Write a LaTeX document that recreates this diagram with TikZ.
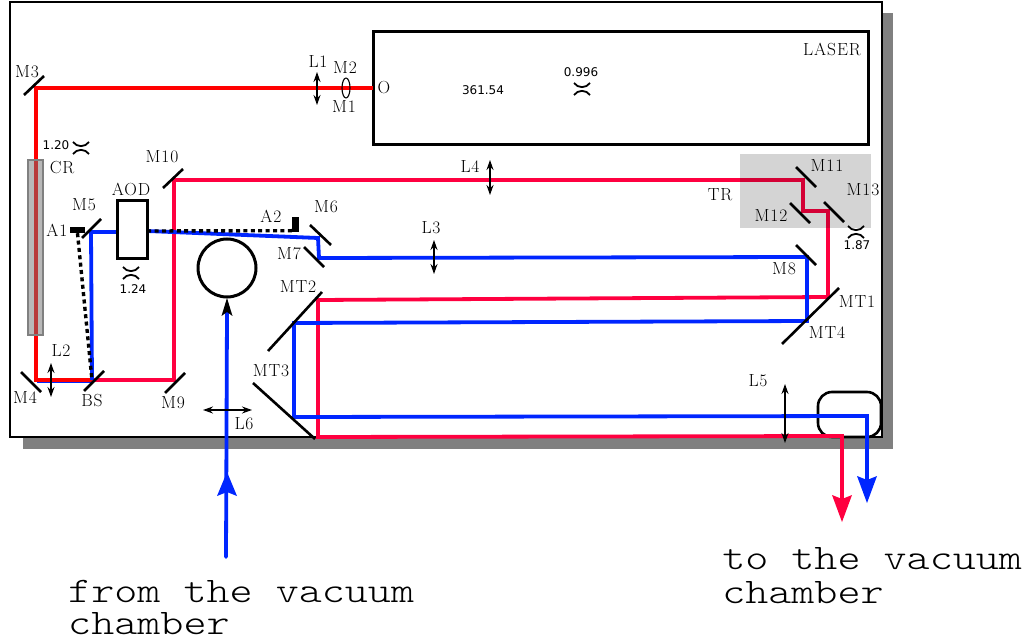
\documentclass[tikz,border=0pt]{standalone}
\usepackage{fontspec}
\newfontfamily\numfont{DejaVu Sans}
\newfontfamily\lblfont[LetterSpace=5]{Latin Modern Roman}
\newfontfamily\bigfont{Latin Modern Mono Light}
\usetikzlibrary{arrows.meta,shapes.geometric}
\definecolor{redA}{HTML}{FF0000}
\definecolor{redB}{HTML}{FF0040}
\definecolor{blueA}{HTML}{0026FF}
\tikzset{
  redbeam/.style={line width=3.8pt,line join=miter},
  bluebeam/.style={line width=3.8pt,draw=blueA,line join=miter},
  mirror/.style={line width=2.6pt,black},
  dots/.style={line width=3.4pt,dash pattern=on 4pt off 3.4pt},
  lensarrow/.style={line width=1.2pt,{Stealth[length=10pt,width=7pt]}-{Stealth[length=10pt,width=7pt]}},
  lbl/.style={inner sep=0pt,font=\lblfont\fontsize{17.5}{17.5}\selectfont},
  num/.style={inner sep=0pt,font=\numfont\fontsize{12}{12}\selectfont},
  big/.style={inner sep=0pt,anchor=base west,font=\bigfont\fontsize{36}{36}\selectfont,xscale=1.22,transform shape},
  waist/.pic={\draw[line width=1.8pt] (-8,-6) .. controls (-4,-0.5) and (4,-0.5) .. (8,-6);
              \draw[line width=1.8pt] (-8,6) .. controls (-4,0.5) and (4,0.5) .. (8,6);}
}
\begin{document}
\begin{tikzpicture}[x=1pt,y=-1pt]
\useasboundingbox (0,0) rectangle (1036,644);
% shadow and frame
\fill[black!50] (23,13) rectangle (893,449);
\draw[line width=1.4pt,fill=white] (10,2) rectangle (882,437);
% laser and other boxes
\node[draw,line width=3pt,minimum width=495pt,minimum height=113pt,inner sep=0pt] (laser) at (620.5,88.5) {};
\draw[line width=2.6pt,rounded corners=14pt] (818,392) rectangle (881,437);
\node[draw,circle,line width=3pt,minimum size=58pt,inner sep=0pt] (chamber) at (227,268) {};
% waypoints
\coordinate (O) at (373,88); \coordinate (cM3) at (36,88); \coordinate (cM4) at (36,380);
\coordinate (cBS) at (92,380); \coordinate (cM9) at (174,380); \coordinate (cM10) at (174,180);
\coordinate (cM11) at (803,180); \coordinate (cM12) at (803,211); \coordinate (cM13) at (828,211);
\coordinate (cMT1) at (828,297); \coordinate (cMT2) at (318,300); \coordinate (cMT3) at (318,437);
\coordinate (cOutR) at (842,436); \coordinate (endR) at (842,505);
\coordinate (cM5) at (91,232); \coordinate (aodL) at (117,232); \coordinate (aodR) at (147,231);
\coordinate (cM6) at (318,238); \coordinate (cM7) at (319,258); \coordinate (cM8) at (807,257);
\coordinate (cMT4) at (807,321); \coordinate (cMT2b) at (294,323); \coordinate (cMT3b) at (294,417);
\coordinate (cOutB) at (867,416); \coordinate (endB) at (867,485);
\coordinate (inS) at (226,557); \coordinate (inE) at (227,312);
% beams
\draw[blueA,line width=.7pt] (37.5,194) -- (37.5,382) -- (92,382);
\draw[redbeam,draw=redA] (O) -- (cM3) -- (cM4) -- (cBS);
\draw[redbeam,draw=redB] (cBS) -- (cM9) -- (cM10) -- (cM11) -- (cM12) -- (cM13) -- (cMT1) -- (cMT2) -- (cMT3) -- (cOutR) -- (endR);
\draw[bluebeam] (cBS) -- (cM5) -- (aodL);
\draw[bluebeam] (aodR) -- (cM6) -- (cM7) -- (cM8) -- (cMT4) -- (cMT2b) -- (cMT3b) -- (cOutB) -- (endB);
\draw[bluebeam,line cap=round] (inS) -- (inE);
% big heads
\fill[redB] (842,522) -- (832,495) -- (842,499) -- (852,495) -- cycle;
\fill[blueA] (867,503) -- (857,476) -- (867,480) -- (877,476) -- cycle;
\fill[blueA] (227,472) -- (217,496) -- (227,492) -- (237,496) -- cycle;
\fill[black] (227,298) -- (221.5,316) -- (227,312) -- (232.5,316) -- cycle;
% dotted
\node[fill=black,minimum width=15pt,minimum height=6pt,inner sep=0pt] (A1) at (77.5,230) {};
\node[fill=black,minimum width=7pt,minimum height=15pt,inner sep=0pt] (A2) at (295.5,224.5) {};
\draw[dots] (A1.south) -- (cBS);
\draw[dots] (A2.south west) ++(0,-1.5) coordinate (a2s) -- (aodR);
% AOD
\node[draw,fill=white,line width=3pt,minimum width=30pt,minimum height=58pt,inner sep=0pt] (AOD) at (132,230) {};
% translucent panels
\fill[black,opacity=.17] (740,154) rectangle (871,228);
\draw[black!50,line width=1.5pt,fill=black!55,fill opacity=.5] (28,160) rectangle (43,335);
% mirrors
\draw[mirror] (24,95) -- (44,76);
\draw[mirror] (21,372) -- (41,392);
\draw[mirror] (84,391) -- (104,371);
\draw[mirror] (165,393) -- (185,373);
\draw[mirror] (163,188) -- (183,169);
\draw[mirror] (82,238) -- (101,219);
\draw[mirror] (310,225) -- (331,245);
\draw[mirror] (304,247) -- (324,267);
\draw[mirror] (268,351) -- (322,292);
\draw[mirror] (253,383) -- (315,439);
\draw[mirror] (796,167) -- (816,187);
\draw[mirror] (790,203) -- (810,223);
\draw[mirror] (824,202) -- (844,222);
\draw[mirror] (796,245) -- (816,265);
\draw[mirror] (782,344) -- (839,288);
% lenses
\draw[lensarrow] (317,72) -- (317,105);
\draw[lensarrow] (51,363) -- (51,397);
\draw[lensarrow] (434,240) -- (434,274);
\draw[lensarrow] (490,160) -- (490,195);
\draw[lensarrow] (785,384) -- (785,443);
\draw[lensarrow] (203,410) -- (252,410);
\node[draw,ellipse,line width=1.1pt,minimum width=8pt,minimum height=20pt,inner sep=0pt] (lens) at (346,88) {};
% waists
\pic at (81,148) {waist};
\pic at (131,273) {waist};
\pic at (582,89) {waist};
\pic at (856,232) {waist};
% labels
\node[lbl] (tM3) at (27,72) {M3};
\node[lbl] (tCR) at (62,168) {CR};
\node[lbl] (tM10) at (162,157) {M10};
\node[lbl] (tAOD) at (131,189) {AOD};
\node[lbl] (tM5) at (84,205) {M5};
\node[lbl] (tA1) at (57,230) {A1};
\node[lbl] (tA2) at (271,216) {A2};
\node[lbl] (tM6) at (326,207) {M6};
\node[lbl] (tM7) at (289,254) {M7};
\node[lbl] (tL1) at (318,62) {L1};
\node[lbl] (tM2) at (345,68) {M2};
\node[lbl] (tM1) at (344,107) {M1};
\node[lbl] (tO) at (384,88) {O};
\node[lbl] (tLASER) at (832,49) {LASER};
\node[lbl] (tL4) at (470,167) {L4};
\node[lbl] (tL3) at (431,228) {L3};
\node[lbl] (tL2) at (61,351) {L2};
\node[lbl] (tM4) at (25,398) {M4};
\node[lbl] (tBS) at (92,401) {BS};
\node[lbl] (tM9) at (173,403) {M9};
\node[lbl] (tL6) at (244,424) {L6};
\node[lbl] (tMT2) at (298,287) {MT2};
\node[lbl] (tMT3) at (271,371) {MT3};
\node[lbl] (tL5) at (758,381) {L5};
\node[lbl] (tTR) at (720,195) {TR};
\node[lbl] (tM11) at (827,166) {M11};
\node[lbl] (tM13) at (863,190) {M13};
\node[lbl] (tM12) at (771,216) {M12};
\node[lbl] (tM8) at (784,269) {M8};
\node[lbl] (tMT1) at (857,302) {MT1};
\node[lbl] (tMT4) at (827,333) {MT4};
\node[num] (n120) at (56,145) {1.20};
\node[num] (n124) at (133,289) {1.24};
\node[num] (n187) at (857,245) {1.87};
\node[num] (n361) at (483,90) {361.54};
\node[num] (n996) at (581,72) {0.996};
\node[big] (from1) at (68,602) {from the vacuum};
\node[big] (from2) at (68,634) {chamber};
\node[big] (to1) at (722,569) {to the vacuum};
\node[big] (to2) at (722,603) {chamber};
\end{tikzpicture}
\end{document}
